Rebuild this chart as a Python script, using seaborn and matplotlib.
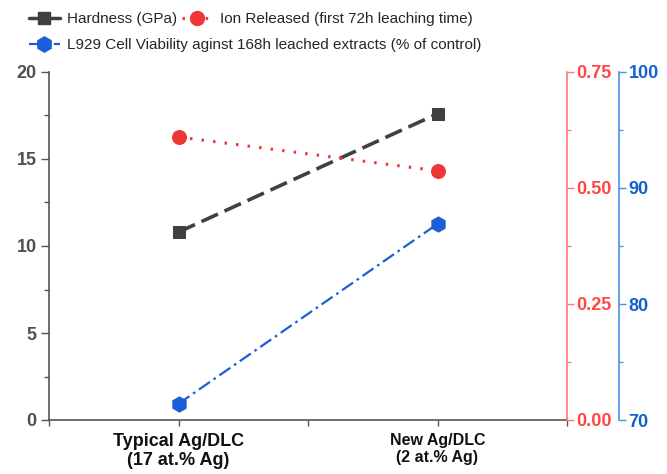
import numpy as np
import pandas as pd
import matplotlib
matplotlib.use("Agg")
import matplotlib.pyplot as plt
import seaborn as sns
from matplotlib.lines import Line2D
from matplotlib.ticker import MultipleLocator

categories = ["Typical Ag/DLC\n(17 at.% Ag)", "New Ag/DLC\n(2 at.% Ag)"]
hardness = [10.8, 17.6]
ion_released = [0.61, 0.537]
viability = [71.4, 86.9]

sns.set_style("ticks")
plt.rcParams['font.family'] = ['Liberation Sans', 'DejaVu Sans']

fig = plt.figure(figsize=(6.67, 4.74), dpi=100)
ax = fig.add_axes([49/667, 54/474, 518/667, 348/474])
ax2 = ax.twinx()
ax3 = ax.twinx()

c_h = '#404040'
c_r = '#ee3636'
c_b = '#1a5fd8'

x = [0, 1]
df = pd.DataFrame({'x': x, 'h': hardness, 'ion': ion_released, 'v': viability})

sns.lineplot(data=df, x='x', y='h', ax=ax, color=c_h, marker='s', markersize=9,
             linewidth=2.6, markeredgecolor=c_h)
ax.lines[-1].set_dashes((5, 2))
sns.lineplot(data=df, x='x', y='ion', ax=ax2, color=c_r, marker='o', markersize=10,
             linewidth=2.2, markeredgecolor=c_r)
ax2.lines[-1].set_dashes((0.8, 3))
sns.lineplot(data=df, x='x', y='v', ax=ax3, color=c_b, marker='h', markersize=11,
             linewidth=1.6, markeredgecolor=c_b)
ax3.lines[-1].set_dashes((6, 2, 1.2, 2))

ax3.spines['right'].set_position(('axes', 1 + 52/518))
ax3.yaxis.set_ticks_position('right')
ax3.yaxis.set_label_position('right')

ax.set_xlim(-0.5, 1.5)
ax.set_ylim(0, 20)
ax2.set_ylim(0, 0.75)
ax3.set_ylim(70, 100)
for a in (ax, ax2, ax3):
    a.set_xlabel('')
    a.set_ylabel('')

ax.set_xticks([0, 1])
ax.set_xticklabels(categories)
ax.xaxis.set_minor_locator(MultipleLocator(0.5))
ax.set_yticks([0, 5, 10, 15, 20])
ax.yaxis.set_minor_locator(MultipleLocator(2.5))
ax2.set_yticks([0, 0.25, 0.5, 0.75])
ax2.set_yticklabels(['0.00', '0.25', '0.50', '0.75'])
ax2.yaxis.set_minor_locator(MultipleLocator(0.125))
ax3.set_yticks([70, 80, 90, 100])
ax3.yaxis.set_minor_locator(MultipleLocator(5))

gray_spine = '#555555'
for a in (ax, ax2, ax3):
    a.spines['top'].set_visible(False)
ax.spines['right'].set_visible(False)
ax.spines['left'].set_color(gray_spine)
ax.spines['bottom'].set_color(gray_spine)
ax.spines['left'].set_linewidth(1.2)
ax.spines['bottom'].set_linewidth(1.2)
ax2.spines['right'].set_color('#ff7a7a')
ax2.spines['right'].set_linewidth(1.2)
ax3.spines['right'].set_color('#4a8fe6')
ax3.spines['right'].set_linewidth(1.2)
for a in (ax2, ax3):
    a.spines['left'].set_visible(False)
    a.spines['bottom'].set_visible(False)

ax.tick_params(axis='y', which='major', direction='out', length=6, width=1, color=gray_spine,
               labelcolor='#505050', labelsize=13, pad=3)
ax.tick_params(axis='y', which='minor', direction='out', length=3.5, width=1, color=gray_spine)
ax.tick_params(axis='x', which='both', direction='out', length=4, width=1, color=gray_spine,
               labelcolor='#111111', pad=5)
ax2.tick_params(axis='y', which='major', direction='out', length=5, width=1, color='#ff7a7a',
                labelcolor='#ff4545', labelsize=13, pad=2)
ax2.tick_params(axis='y', which='minor', direction='out', length=3, width=1, color='#ff7a7a')
ax3.tick_params(axis='y', which='major', direction='out', length=5, width=1, color='#4a8fe6',
                labelcolor='#1560d0', labelsize=13, pad=2)
ax3.tick_params(axis='y', which='minor', direction='out', length=3, width=1, color='#4a8fe6')
for lab in ax.get_yticklabels() + ax2.get_yticklabels() + ax3.get_yticklabels():
    lab.set_fontweight('bold')
xl = ax.get_xticklabels()
xl[0].set_fontsize(13)
xl[1].set_fontsize(11.5)
for lab in xl:
    lab.set_fontweight('bold')

h1 = Line2D([], [], color=c_h, marker='s', markersize=9, linewidth=2.5)
h2 = Line2D([], [], color=c_r, marker='o', markersize=10, linewidth=2.2, dashes=(0.8, 3))
h3 = Line2D([], [], color=c_b, marker='h', markersize=11, linewidth=1.6, dashes=(6, 2, 1.2, 2))
fig.legend([h1, h2], ['Hardness (GPa)', 'Ion Released (first 72h leaching time)'],
           loc='center left', bbox_to_anchor=(29/667, 1 - 19/474), ncol=2, frameon=False,
           fontsize=11, handlelength=2.0, handletextpad=0.5, columnspacing=0.3,
           borderaxespad=0, borderpad=0)
fig.legend([h3], ['L929 Cell Viability aginst 168h leached extracts (% of control)'],
           loc='center left', bbox_to_anchor=(29/667, 1 - 45/474), frameon=False,
           fontsize=11, handlelength=2.0, handletextpad=0.5, borderaxespad=0, borderpad=0)

fig.savefig('out.png', dpi=100)
